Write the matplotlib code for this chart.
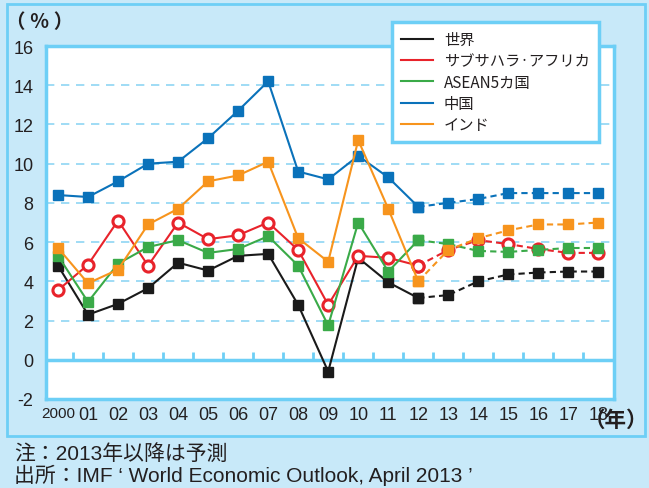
import matplotlib.pyplot as plt
import matplotlib.patches as mpatches
from matplotlib.lines import Line2D

years = list(range(19))
year_labels = ['2000', '01', '02', '03', '04', '05', '06', '07', '08', '09',
               '10', '11', '12', '13', '14', '15', '16', '17', '18']

world = [4.8, 2.3, 2.85, 3.65, 4.95, 4.55, 5.3, 5.4, 2.8, -0.6,
         5.2, 3.95, 3.15, 3.3, 4.0, 4.35, 4.45, 4.5, 4.5]
ssa = [3.55, 4.85, 7.1, 4.8, 7.0, 6.15, 6.35, 7.0, 5.6, 2.8,
       5.3, 5.2, 4.8, 5.6, 6.1, 5.9, 5.65, 5.45, 5.45]
asean5 = [5.3, 2.95, 4.9, 5.75, 6.1, 5.45, 5.65, 6.3, 4.8, 1.75,
          7.0, 4.5, 6.1, 5.9, 5.55, 5.5, 5.6, 5.7, 5.7]
china = [8.4, 8.3, 9.1, 10.0, 10.1, 11.3, 12.7, 14.2, 9.6, 9.2,
         10.4, 9.3, 7.8, 8.0, 8.2, 8.5, 8.5, 8.5, 8.5]
india = [5.7, 3.9, 4.6, 6.9, 7.7, 9.1, 9.4, 10.1, 6.2, 5.0,
         11.2, 7.7, 4.0, 5.6, 6.2, 6.6, 6.9, 6.9, 7.0]

names = ['世界', 'サブサハラ·アフリカ', 'ASEAN5カ国', '中国', 'インド']
colors = ['#1a1a1a', '#e8232b', '#3aaa48', '#0a72ba', '#f7941d']
last_actual = 12  # 2013年以降は予測 (点線)

bg = '#c8e9f9'
frame = '#6dcff6'
jp = ['Noto Sans CJK JP', 'DejaVu Sans']
latin = ['Liberation Sans', 'Noto Sans CJK JP']
narrow = ['Liberation Sans Narrow', 'Liberation Sans']

W, H = 649, 489
fig = plt.figure(figsize=(W / 100, H / 100), dpi=100, facecolor=bg)

# outer panel frame
fig.patches.append(mpatches.Rectangle((7 / W, 1 - 437 / H), 638 / W, 432 / H,
                                      transform=fig.transFigure, fill=False,
                                      edgecolor=frame, lw=2))

ax = fig.add_axes([46 / W, 1 - 400 / H, 568 / W, 353 / H])
ax.set_facecolor('white')
ax.set_xlim(-0.4, 18.52)
ax.set_ylim(-2, 16)

for s in ax.spines.values():
    s.set_color(frame)
    s.set_linewidth(2.5)

for g in range(2, 16, 2):
    ax.axhline(g, color='#8fd6f4', lw=1.2, ls=(0, (5, 4)), zorder=1)
ax.axhline(0, color=frame, lw=2.5, zorder=2)
ax.vlines([y + 0.5 for y in years[:-1]], 0, 0.4, color=frame, lw=2, zorder=2)

series = [china, india, asean5, world, ssa]
order = [3, 4, 2, 0, 1]
for data, idx in zip(series, order):
    c = colors[idx]
    if idx == 1:
        mk = dict(marker='o', ms=8, mfc='white', mec=c, mew=2.2)
    else:
        mk = dict(marker='s', ms=7, mfc=c, mec=c)
    ax.plot(years[:last_actual + 1], data[:last_actual + 1], color=c, lw=1.5,
            zorder=3 + idx, **mk)
    ax.plot(years[last_actual:], data[last_actual:], color=c, lw=1.5,
            ls=(0, (3, 2)), zorder=3 + idx, **mk)

ax.set_xticks(years)
ax.set_xticklabels(year_labels, family=narrow, fontsize=13)
ax.get_xticklabels()[0].set_fontsize(11)
ax.set_yticks(range(-2, 17, 2))
ax.set_yticklabels([str(v) for v in range(-2, 17, 2)], family=latin, fontsize=13)
ax.tick_params(axis='x', length=0, pad=5, colors='#231f20')
ax.tick_params(axis='y', length=0, pad=9, colors='#231f20')

fig.text(6 / W, 1 - 23 / H, '（ ％ ）', family=jp, fontsize=14, weight='bold',
         va='center', ha='left', color='#231f20')
fig.text(648 / W, 1 - 420 / H, '（年）', family=jp, fontsize=15.5, weight='bold',
         va='center', ha='right', color='#231f20')

handles = [Line2D([0], [0], color=c, lw=1.5) for c in colors]
leg = fig.legend(handles, names, loc='upper left',
                 bbox_to_anchor=(392 / W, 1 - 23 / H), bbox_transform=fig.transFigure,
                 borderaxespad=0, prop={'family': jp, 'size': 11},
                 handlelength=2.1, handletextpad=0.7, labelspacing=0.28,
                 borderpad=0.6, fancybox=False, framealpha=1)
leg.get_frame().set_edgecolor(frame)
leg.get_frame().set_linewidth(2.5)
for t in leg.get_texts():
    t.set_color('#231f20')

fig.text(14 / W, 1 - 454 / H, '注：2013年以降は予測', family=latin, fontsize=15,
         va='center', ha='left', color='#231f20')
fig.text(14 / W, 1 - 475 / H, '出所：IMF ‘ World Economic Outlook, April 2013 ’',
         family=latin, fontsize=15, va='center', ha='left', color='#231f20')

fig.savefig('out.png', dpi=100, facecolor=bg)
